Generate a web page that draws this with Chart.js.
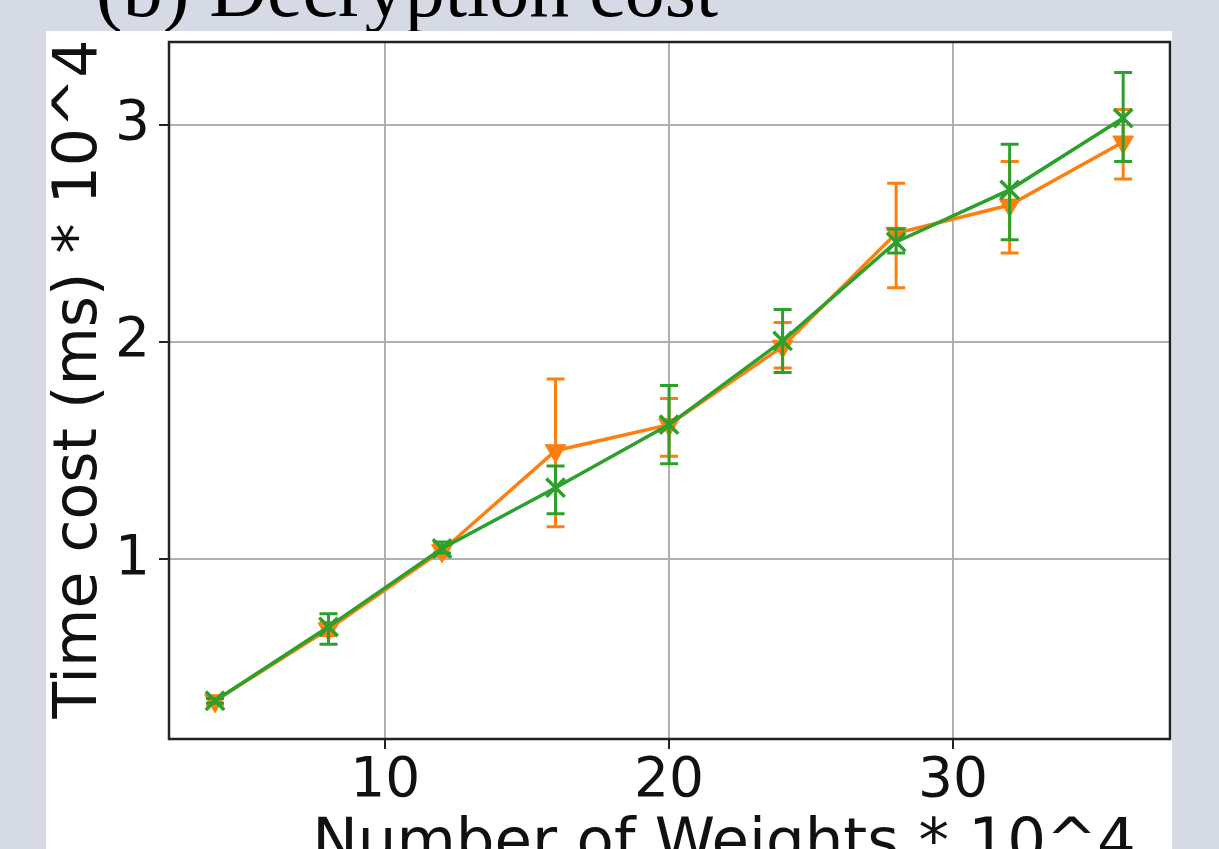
<!DOCTYPE html>
<html>
<head>
<meta charset="utf-8">
<script src="https://cdn.jsdelivr.net/npm/chart.js@4.4.1/dist/chart.umd.min.js"></script>
<style>
  html, body { margin: 0; padding: 0; background: #d5dae5; overflow: hidden; }
  #wrap { position: relative; width: 1219px; height: 849px; }
</style>
</head>
<body>
<div id="wrap"><canvas id="decryptChart" width="1219" height="849"></canvas></div>
<script>
// values (x in 10^4 weights, y in 10^4 ms)
const weights = [4, 8, 12, 16, 20, 24, 28, 32, 36];

const orangeMean = [0.35, 0.68, 1.04, 1.50, 1.62, 1.98, 2.50, 2.63, 2.92];
const orangeLow  = [0.33, 0.65, 1.015, 1.15, 1.475, 1.88, 2.25, 2.41, 2.75];
const orangeHigh = [0.37, 0.71, 1.065, 1.83, 1.74, 2.09, 2.73, 2.83, 3.07];

const greenMean = [0.35, 0.69, 1.05, 1.33, 1.62, 2.005, 2.46, 2.70, 3.03];
const greenLow  = [0.34, 0.61, 1.03, 1.21, 1.44, 1.86, 2.41, 2.47, 2.83];
const greenHigh = [0.36, 0.75, 1.08, 1.43, 1.80, 2.15, 2.52, 2.91, 3.24];

const xTicks = [10, 20, 30];
const yTicks = [1, 2, 3];

const ORANGE = '#ff7f0e';
const GREEN = '#2ca02c';

const toPoints = (ys) => weights.map((x, i) => ({ x: x, y: ys[i] }));

// grey page, the figure title (its bottom is hidden by the panel), white panel
const backdrop = {
    id: 'backdrop',
    beforeDraw(chart) {
        const ctx = chart.ctx;
        ctx.save();
        ctx.fillStyle = '#d5dae5';
        ctx.fillRect(0, 0, chart.width, chart.height);

        ctx.fillStyle = '#000';
        ctx.textAlign = 'center';
        ctx.textBaseline = 'alphabetic';
        ctx.font = '80px "Liberation Serif", "Times New Roman", serif';
        ctx.fillText('(b) Decryption cost', 407, 16);

        ctx.fillStyle = '#ffffff';
        ctx.fillRect(46, 31, 1126, 818);
        ctx.restore();
    }
};

// vertical error bars with caps, drawn under each series
const errorBars = {
    id: 'errorBars',
    beforeDatasetDraw(chart, args) {
        const ds = chart.data.datasets[args.index];
        if (!ds.errLow) return;
        const ctx = chart.ctx;
        const xs = chart.scales.x;
        const ys = chart.scales.y;
        ctx.save();
        ctx.strokeStyle = ds.borderColor;
        ctx.lineWidth = 3;
        ds.data.forEach((p, i) => {
            const px = xs.getPixelForValue(p.x);
            const lo = ys.getPixelForValue(ds.errLow[i]);
            const hi = ys.getPixelForValue(ds.errHigh[i]);
            ctx.beginPath();
            ctx.moveTo(px, lo);
            ctx.lineTo(px, hi);
            ctx.moveTo(px - 9, lo);
            ctx.lineTo(px + 9, lo);
            ctx.moveTo(px - 9, hi);
            ctx.lineTo(px + 9, hi);
            ctx.stroke();
        });
        ctx.restore();
    }
};

// axes frame and the two axis labels
const frameAndText = {
    id: 'frameAndText',
    afterDraw(chart) {
        const ctx = chart.ctx;
        const a = chart.chartArea;
        ctx.save();
        ctx.strokeStyle = '#222';
        ctx.lineWidth = 2.5;
        ctx.strokeRect(a.left, a.top, a.right - a.left, a.bottom - a.top);

        ctx.fillStyle = '#111';
        ctx.textAlign = 'center';
        ctx.textBaseline = 'alphabetic';
        ctx.font = '61px "DejaVu Sans", sans-serif';
        ctx.fillText('Number of Weights * 10^4', 724, 861);

        ctx.translate(96, 379);
        ctx.rotate(-Math.PI / 2);
        ctx.font = '60px "DejaVu Sans", sans-serif';
        ctx.fillText('Time cost (ms) * 10^4', 0, 0);
        ctx.restore();
    }
};

new Chart(document.getElementById('decryptChart'), {
    type: 'line',
    data: {
        datasets: [
            {
                label: 'orange',
                data: toPoints(orangeMean),
                errLow: orangeLow,
                errHigh: orangeHigh,
                borderColor: ORANGE,
                backgroundColor: ORANGE,
                borderWidth: 3.5,
                pointStyle: 'triangle',
                rotation: 180,
                pointRadius: 12,
                pointBorderWidth: 1,
                tension: 0,
                order: 2
            },
            {
                label: 'green',
                data: toPoints(greenMean),
                errLow: greenLow,
                errHigh: greenHigh,
                borderColor: GREEN,
                backgroundColor: GREEN,
                borderWidth: 3.5,
                pointStyle: 'crossRot',
                pointRadius: 13,
                pointBorderWidth: 3.5,
                tension: 0,
                order: 1
            }
        ]
    },
    options: {
        responsive: false,
        animation: false,
        devicePixelRatio: 1,
        layout: { padding: { top: 38, right: 49, left: 0, bottom: 0 } },
        plugins: {
            legend: { display: false },
            tooltip: { enabled: false }
        },
        scales: {
            x: {
                type: 'linear',
                min: 2.38,
                max: 37.65,
                afterBuildTicks: (scale) => { scale.ticks = xTicks.map(v => ({ value: v })); },
                afterFit: (scale) => { scale.height = 110; },
                border: { display: false },
                grid: { color: '#b0b0b0', lineWidth: 2, tickLength: 10, tickColor: '#222', tickWidth: 2 },
                ticks: {
                    color: '#111',
                    padding: 0,
                    maxRotation: 0,
                    font: { family: 'DejaVu Sans', size: 55 }
                }
            },
            y: {
                type: 'linear',
                min: 0.174,
                max: 3.38,
                afterBuildTicks: (scale) => { scale.ticks = yTicks.map(v => ({ value: v })); },
                afterFit: (scale) => { scale.width = 169; },
                border: { display: false },
                grid: { color: '#b0b0b0', lineWidth: 2, tickLength: 10, tickColor: '#222', tickWidth: 2 },
                ticks: {
                    color: '#111',
                    padding: 9,
                    font: { family: 'DejaVu Sans', size: 55 }
                }
            }
        }
    },
    plugins: [backdrop, errorBars, frameAndText]
});
</script>
</body>
</html>
